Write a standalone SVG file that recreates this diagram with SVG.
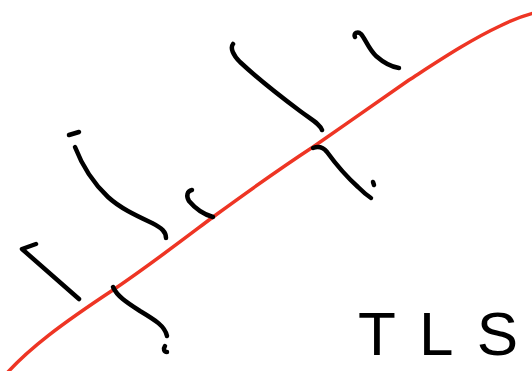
<svg xmlns="http://www.w3.org/2000/svg" width="532" height="371" viewBox="0 0 532 371">
<style>
.ink{fill:none;stroke:#000;stroke-width:4.5;stroke-linecap:round;stroke-linejoin:round}
.red{fill:none;stroke:#ee3524;stroke-width:3.5;stroke-linecap:round}
.lbl{font-family:"Liberation Sans",Arial,sans-serif;font-size:62px;fill:#000}
</style>
<rect width="532" height="371" fill="#fff"/>
<g id="curve">
<path class="red" d="M8,372 C30,348 60,325 113,290 C150,265 185,238 213,217 C250,190 290,162 313,147 C345,125 380,100 409,80 C440,60 470,40 500,26 C512,20 522,16 534,13"/>
</g>
<g id="connectors">
<path class="ink" d="M79,299 L22,249 L36,244"/>
<path class="ink" d="M113,287 C117,296 126,302 140,311 C155,320 165,326 167,336"/>
<path class="ink" d="M165,346 C163,349 164,352 167,352"/>
<path class="ink" d="M69,135 L79,132"/>
<path class="ink" d="M75,147 C80,160 90,180 108,197 C120,208 135,215 152,223 C162,228 166,232 166,238"/>
<path class="ink" d="M192,190 C187,191 186,196 189,201 C194,207 202,214 213,217"/>
<path class="ink" d="M233,44 C230,48 233,55 240,62 C255,76 280,96 300,111 C312,120 320,124 322,130"/>
<path class="ink" d="M313,148 C318,146 323,147 327,152 C335,163 348,178 358,187 C363,192 368,196 371,198"/>
<path class="ink" d="M373,182 L374,185"/>
<path class="ink" d="M355,37 C353,33 358,31 361,34 C366,40 368,48 376,56 C384,63 392,67 399,68"/>
</g>
<g id="label">
<text class="lbl" x="358" y="355" textLength="160" lengthAdjust="spacing">TLS</text>
</g>
</svg>
